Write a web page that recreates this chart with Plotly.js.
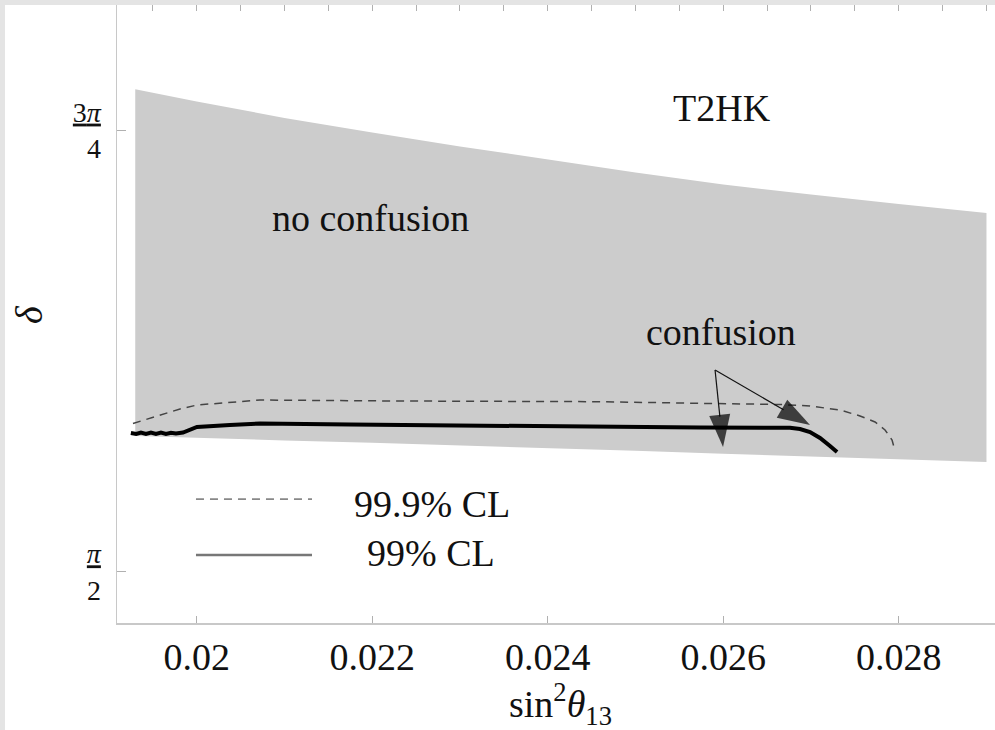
<!DOCTYPE html>
<html><head><meta charset="utf-8">
<script src="https://cdn.plot.ly/plotly-3.0.1.min.js"></script>
<style>
html,body{margin:0;padding:0;background:#e4e4e4;width:995px;height:730px;overflow:hidden;position:relative;}
#chart{position:absolute;left:5px;top:5px;width:1000px;height:725px;background:#fff;}
</style></head><body><div id="chart"></div>
<script>
// Shaded region (no confusion band) : sin^2(theta13) vs delta boundaries
const bandX = [0.0193,0.0200,0.0210,0.0220,0.0230,0.0240,0.0250,0.0260,0.0270,0.0280,0.0290];
const bandUpper = [2.4287,2.4070,2.3777,2.3516,2.3269,2.3034,2.2808,2.2595,2.2413,2.2248,2.2086];
const bandLower = [1.8121,1.8087,1.8043,1.8000,1.7956,1.7909,1.7858,1.7804,1.7756,1.7705,1.7659];

// 99% CL contour (solid)
const cl99X = [0.01925,0.01931,0.019365,0.019422,0.019479,0.019536,0.019593,0.01965,0.019707,0.019764,0.019844,0.019924,0.020003,0.020379,0.020721,0.021747,0.023456,0.025736,0.026761,0.026875,0.026989,0.027103,0.027217,0.027297];
const cl99Y = [1.8174,1.8157,1.8183,1.8157,1.8183,1.8157,1.8183,1.8157,1.8178,1.8165,1.8183,1.8228,1.8281,1.8317,1.8343,1.8325,1.8299,1.8272,1.8268,1.8245,1.8192,1.8085,1.7943,1.7836];

// 99.9% CL contour (dashed)
const cl999X = [0.019274,0.019582,0.01981,0.020003,0.020379,0.020721,0.022317,0.024596,0.025736,0.026647,0.026989,0.027331,0.027559,0.02773,0.027844,0.027924,0.027958];
const cl999Y = [1.8343,1.8494,1.8601,1.8672,1.8725,1.8761,1.8743,1.8731,1.8702,1.8681,1.8654,1.8583,1.8477,1.8370,1.8228,1.8050,1.7854];

// "confusion" arrows: common tail, two heads
const arrowTail = [0.025907, 1.9294];
const arrowHeads = [[0.025998, 1.7925],[0.026989, 1.8317]];

// Axes
const xTickVals = [0.020,0.022,0.024,0.026,0.028];
const xTickText = ['0.02','0.022','0.024','0.026','0.028'];
const xTopTicks = [0.0195,0.0200,0.0205,0.0210,0.0215,0.0220,0.0225,0.0230,0.0235,0.0240,0.0245,0.0250,0.0255,0.0260,0.0265,0.0270,0.0275,0.0280,0.0285,0.0290];
const yTickVals = [Math.PI/2, 3*Math.PI/4];
const yTickText = ['<u><i>π</i></u><br>2','<u>3<i>π</i></u><br>4'];
const xRange = [0.019092, 0.029211];
const yRange = [1.47959, 2.57845];

const FONT = 'Liberation Serif, Times New Roman, serif';

const traces = [];
traces.push({
  x: bandX.concat(bandX.slice().reverse()),
  y: bandUpper.concat(bandLower.slice().reverse()),
  type:'scatter', mode:'lines', fill:'toself', fillcolor:'#cccccc',
  line:{width:0, color:'#cccccc'}, hoverinfo:'skip', showlegend:false
});
traces.push({
  x: cl999X, y: cl999Y, type:'scatter', mode:'lines',
  line:{color:'#444444', width:1.5, dash:'8px,6px'}, showlegend:false
});
traces.push({
  x: cl99X, y: cl99Y, type:'scatter', mode:'lines',
  line:{color:'#000000', width:4}, showlegend:false
});
arrowHeads.forEach(h => {
  traces.push({
    x:[arrowTail[0], h[0]], y:[arrowTail[1], h[1]], type:'scatter', mode:'lines+markers',
    line:{color:'#111', width:1.2},
    marker:{symbol:'arrow', angleref:'previous', size:[0,34], color:'#000', line:{width:0}},
    showlegend:false, hoverinfo:'skip'
  });
});
// anchor for the top tick axis
traces.push({x:[xRange[0]], y:[yRange[0]], xaxis:'x2', yaxis:'y', mode:'markers', marker:{opacity:0}, showlegend:false, hoverinfo:'skip'});

const axisLine = '#c8c8c8';
const txt = (text, x, y, xref, yref, extra) => Object.assign({text, x, y, xref, yref, showarrow:false,
  xanchor:'center', yanchor:'middle', font:{size:38, family:FONT, color:'#111'}}, extra || {});
const layout = {
  width: 1000, height: 725,
  margin:{l:112, r:0, t:0, b:107},
  paper_bgcolor:'#ffffff', plot_bgcolor:'#ffffff',
  showlegend:false,
  font:{family:FONT, color:'#111'},
  xaxis:{range:xRange, tickvals:xTickVals, ticktext:xTickText, ticks:'inside', ticklen:7,
    tickcolor:'#b0b0b0', tickwidth:1, showline:true, mirror:true, linecolor:axisLine, linewidth:1.5,
    showgrid:false, zeroline:false, tickfont:{family:FONT, size:38, color:'#111'}},
  xaxis2:{range:xRange, overlaying:'x', side:'top', anchor:'y', tickvals:xTopTicks, ticks:'inside',
    ticklen:6, tickcolor:'#b0b0b0', showticklabels:false, showline:false,
    showgrid:false, zeroline:false},
  yaxis:{range:yRange, tickvals:yTickVals, ticktext:yTickText, ticks:'inside', ticklen:9,
    tickcolor:'#b0b0b0', showline:true, linecolor:axisLine, linewidth:1.5, showgrid:false,
    zeroline:false, ticklabelstandoff:9, tickfont:{family:FONT, size:28, color:'#111'}},
  shapes:[
    {type:'line', xref:'x', yref:'paper', x0:0.019992, x1:0.021314, y0:0.2006, y1:0.2006,
     line:{color:'#888', width:1.8, dash:'8px,6px'}},
    {type:'line', xref:'x', yref:'paper', x0:0.019992, x1:0.021314, y0:0.1100, y1:0.1100,
     line:{color:'#777', width:2.5}}
  ],
  annotations:[
    txt('T2HK', 0.025986, 2.39531, 'x', 'y'),
    txt('no confusion', 0.021986, 2.19972, 'x', 'y'),
    txt('confusion', 0.025976, 1.99701, 'x', 'y'),
    txt('99.9% CL', 0.022681, 0.1926, 'x', 'paper'),
    txt('99% CL', 0.02267, 0.1133, 'x', 'paper'),
    txt('<i>δ</i>', -0.0991, 0.5, 'paper', 'paper', {textangle:-90}),
    txt('sin<sup>2</sup><i>θ</i><sub>13</sub>', 0.4989, -0.1315, 'paper', 'paper')
  ]
};
Plotly.newPlot('chart', traces, layout, {displayModeBar:false, staticPlot:true});
</script></body></html>
